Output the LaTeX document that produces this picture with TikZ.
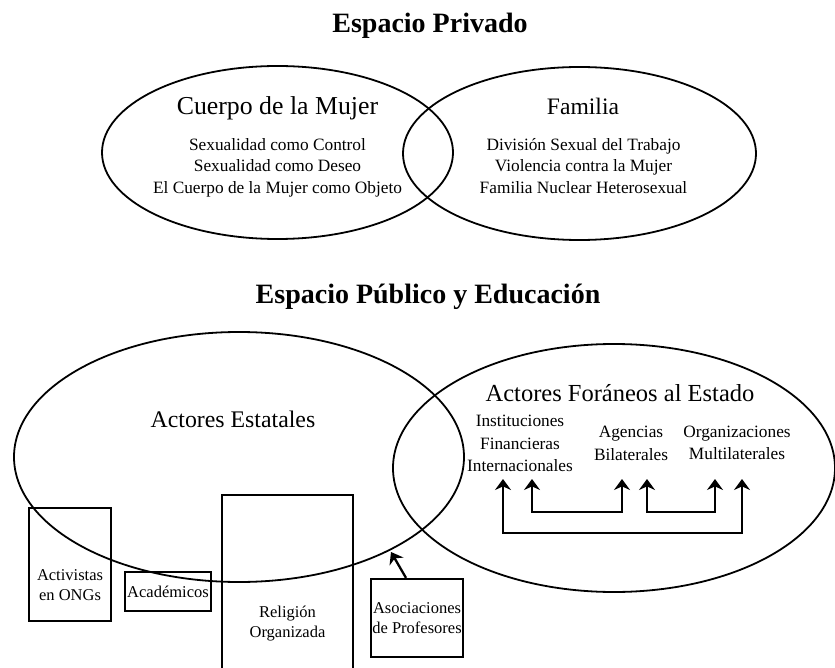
\documentclass[tikz,border=0pt]{standalone}
\usepackage{fontspec}
\setmainfont{Liberation Serif}
\usetikzlibrary{shapes.geometric,arrows.meta}
\begin{document}
\begin{tikzpicture}[x=0.5pt,y=-0.5pt,
  venn/.style={draw, ellipse, line width=0.9pt, inner sep=0pt},
  ttl/.style={anchor=base, font=\fontsize{14}{17}\selectfont\bfseries},
  big/.style={anchor=base, font=\fontsize{12.25}{15}\selectfont},
  sub/.style={align=center, font=\fontsize{8.65}{10.75}\selectfont, inner sep=0pt},
  lsub/.style={align=center, font=\fontsize{8.65}{11.25}\selectfont, inner sep=0pt},
  bx/.style={draw, line width=1.1pt, inner sep=0pt, rectangle},
  btxt/.style={align=center, font=\fontsize{8.25}{10}\selectfont, inner sep=0pt},
  tip/.tip={Stealth[length=5.5pt,width=8pt,inset=1.8pt]},
  arr/.style={line width=1.15pt, -tip},
  darr/.style={line width=1.15pt, tip-tip}
]
\useasboundingbox (0,0) rectangle (835,668);
\clip (0,0) rectangle (835,668);

% Espacio Privado
\node[ttl] (t1) at (430,33) {Espacio Privado};
\node[venn, minimum width=175.5pt, minimum height=86.5pt] (cuerpo) at (277.5,152.5) {};
\node[venn, minimum width=176.5pt, minimum height=86.5pt] (familia) at (579.5,153.5) {};
\node[big, font=\fontsize{12.9}{15}\selectfont] (cuerpoL) at (277.5,115) {Cuerpo de la Mujer};
\node[sub] (cuerpoS) at (277.5,167.6) {Sexualidad como Control\\Sexualidad como Deseo\\El Cuerpo de la Mujer como Objeto};
\node[big, font=\fontsize{11.8}{15}\selectfont] (famL) at (583,115) {Familia};
\node[sub] (famS) at (583.5,166) {División Sexual del Trabajo\\Violencia contra la Mujer\\Familia Nuclear Heterosexual};

% Espacio Publico
\node[ttl] (t2) at (428,303) {Espacio Público y Educación};
\node[venn, minimum width=225pt, minimum height=125pt] (estat) at (239,457) {};
\node[venn, minimum width=221pt, minimum height=124pt] (foran) at (614,468) {};
\node[big, font=\fontsize{11.9}{15}\selectfont] (estL) at (233,427) {Actores Estatales};
\node[big] (forL) at (620,401) {Actores Foráneos al Estado};
\node[lsub] (ifi) at (520,443.5) {Instituciones\\Financieras\\Internacionales};
\node[lsub] (ab) at (631,443.3) {Agencias\\Bilaterales};
\node[lsub] (om) at (737,443) {Organizaciones\\Multilaterales};

\coordinate (a1) at (503,479);
\coordinate (a2) at (532,479);
\coordinate (a3) at (622,479);
\coordinate (a4) at (647,479);
\coordinate (a5) at (715,479);
\coordinate (a6) at (742,479);
\draw[darr] (a2) -- ++(0,33) -| (a3);
\draw[darr] (a4) -- ++(0,33) -| (a5);
\draw[darr] (a1) -- ++(0,54) -| (a6);

% boxes
\node[bx, minimum width=41pt, minimum height=56.5pt] (actbox) at (70,564.5) {};
\node[btxt] (act) at (70,585.5) {Activistas\\en ONGs};
\node[bx, btxt, minimum width=43pt, minimum height=19.5pt] (acad) at (168,591.5) {Académicos};
\node[bx, minimum width=65.5pt, minimum height=92.5pt] (relbox) at (287.5,587.5) {};
\node[btxt] (rel) at (287.5,623.3) {Religión\\Organizada};
\node[bx, btxt, minimum width=46pt, minimum height=39pt] (asoc) at (417,618) {Asociaciones\\de Profesores};
\coordinate (tipA) at (391,552);
\draw[arr] ([xshift=-5.5pt]asoc.north) -- (tipA);
\end{tikzpicture}
\end{document}
